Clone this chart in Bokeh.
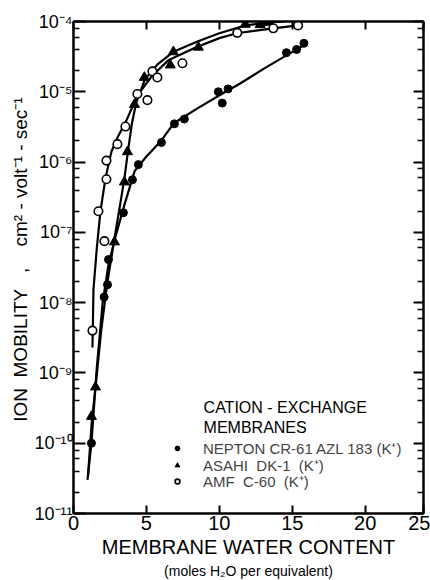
from bokeh.plotting import figure
from bokeh.models import (FixedTicker, LinearAxis, LogAxis, CustomJSTickFormatter,
                          Label, Legend, LegendItem, Range1d, Title)
from bokeh.embed import file_html
from bokeh.resources import INLINE

# ---------------- data ----------------
nepton_x = [1.23, 2.1, 2.33, 2.40, 3.42, 4.04, 4.45, 6.03, 6.92, 7.60, 9.93, 10.2, 10.6, 14.6, 15.3, 15.8]
nepton_y = [1e-10, 1.2e-8, 1.8e-8, 4.1e-8, 1.9e-7, 5.6e-7, 9.2e-7, 1.9e-6, 3.5e-6, 4.1e-6,
            1.0e-5, 6.9e-6, 1.1e-5, 3.6e-5, 4.0e-5, 4.9e-5]

asahi_x = [1.23, 1.51, 2.81, 3.49, 3.70, 4.18, 4.86, 6.64, 6.85, 8.56, 11.78, 12.8, 13.4]
asahi_y = [2.4e-10, 6.3e-10, 7.3e-8, 5.2e-7, 1.4e-6, 6.6e-6, 1.6e-5, 2.4e-5, 3.7e-5, 4.3e-5,
           9.1e-5, 9.0e-5, 9.7e-5]

amf_x = [1.30, 1.71, 2.12, 2.26, 2.26, 3.01, 3.56, 4.38, 5.07, 5.41, 5.75, 7.47, 11.23, 13.7, 15.4]
amf_y = [4e-9, 2.0e-7, 7.5e-8, 5.7e-7, 1.05e-6, 1.8e-6, 3.2e-6, 9.3e-6, 7.6e-6, 1.95e-5,
         1.6e-5, 2.55e-5, 6.9e-5, 8.0e-5, 8.8e-5]

nepton_curve_x = [0.96, 1.23, 1.6, 2.0, 2.4, 2.9, 3.5, 4.2, 5.0, 6.0, 6.9, 8.5, 10.3, 11.4, 13.0, 14.6, 15.8]
nepton_curve_y = [3e-11, 1e-10, 1.2e-9, 1e-8, 3.5e-8, 9e-8, 2.5e-7, 7.5e-7, 1.2e-6, 2.0e-6,
                  3.6e-6, 5.8e-6, 9.7e-6, 1.3e-5, 2.1e-5, 3.3e-5, 4.6e-5]

asahi_curve_x = [1.0, 1.25, 1.51, 1.9, 2.3, 2.8, 3.2, 3.5, 3.75, 4.0, 4.3, 4.9, 5.8, 6.85,
                 8.5, 10.0, 11.8, 13.4, 14.5]
asahi_curve_y = [3.5e-11, 2.0e-10, 6.3e-10, 4e-9, 1.8e-8, 8e-8, 2.5e-7, 6e-7, 1.5e-6, 3.5e-6,
                 7e-6, 1.5e-5, 2.5e-5, 3.7e-5, 5.2e-5, 6.8e-5, 8.8e-5, 9.7e-5, 1.0e-4]

amf_curve_x = [1.30, 1.37, 1.6, 1.85, 2.2, 2.6, 3.0, 3.6, 4.4, 5.4, 6.5, 8.3, 10.0, 11.2, 13.7, 15.4]
amf_curve_y = [2.3e-9, 1.55e-8, 6e-8, 2e-7, 6e-7, 1.4e-6, 2.2e-6, 3.8e-6, 9e-6, 1.7e-5,
               2.8e-5, 4.2e-5, 5.8e-5, 6.8e-5, 8.0e-5, 8.8e-5]

x_tick_values = [0, 5, 10, 15, 20, 24]
x_tick_labels = ["0", "5", "10", "15", "20", "25"]
y_exponents = [-11, -10, -9, -8, -7, -6, -5, -4]
y_minor_multipliers = [2, 4, 6, 8]

legend_labels = ["NEPTON CR-61 AZL 183 (K\u207a)", "ASAHI  DK-1  (K\u207a)", "AMF  C-60  (K\u207a)"]
legend_heading = ["CATION - EXCHANGE", "MEMBRANES"]
NB = "\u00a0"
y_label = (NB * 3 + "ION" + NB * 2 + "MOBILITY" + NB * 3 + "," + NB * 4
           + "cm\u00b2 - volt\u207b\u00b9 - sec\u207b\u00b9")
x_label_main = "MEMBRANE WATER CONTENT"
x_label_sub = "(moles H\u2082O per equivalent)"

FONT = "Liberation Sans"

# ---------------- figure ----------------
p = figure(width=430, height=580, x_range=Range1d(0, 24), y_range=Range1d(1e-11, 1e-4),
           y_axis_type="log", output_backend="svg", toolbar_location=None,
           min_border_left=73, min_border_right=7, min_border_top=21, min_border_bottom=67)
p.grid.visible = False
p.outline_line_color = "black"
p.outline_line_width = 2
p.background_fill_color = "white"
p.border_fill_color = "white"

y_major = [10.0 ** e for e in y_exponents]
y_minor = [m * 10.0 ** e for e in y_exponents[:-1] for m in y_minor_multipliers]
y_ticker = FixedTicker(ticks=y_major, minor_ticks=y_minor)
x_ticker = FixedTicker(ticks=x_tick_values)

y_fmt = CustomJSTickFormatter(code="""
const sup = {"-":"\u207b","0":"\u2070","1":"\u00b9","2":"\u00b2","3":"\u00b3","4":"\u2074",
             "5":"\u2075","6":"\u2076","7":"\u2077","8":"\u2078","9":"\u2079"};
const e = Math.round(Math.log10(tick));
return "10" + String(e).split("").map(c => sup[c]).join("");
""")
x_fmt = CustomJSTickFormatter(args=dict(vals=x_tick_values, labs=x_tick_labels), code="""
const i = vals.indexOf(tick);
return i >= 0 ? labs[i] : String(tick);
""")

def style_axis(ax, major_in, minor_in, show_labels, size="19px"):
    ax.axis_line_width = 2
    ax.axis_line_color = "black"
    ax.major_tick_line_width = 2
    ax.minor_tick_line_width = 1.5
    ax.major_tick_in = major_in
    ax.major_tick_out = 0
    ax.minor_tick_in = minor_in
    ax.minor_tick_out = 0
    ax.major_label_text_font = FONT
    ax.major_label_text_color = "black"
    ax.major_label_text_font_size = size
    ax.major_label_standoff = 2
    ax.axis_label_text_font = FONT
    ax.axis_label_text_font_style = "normal"
    ax.axis_label_text_color = "black"
    if not show_labels:
        ax.major_label_text_alpha = 0
        ax.major_label_text_font_size = "1px"
        ax.major_label_standoff = 0

xa = p.xaxis[0]
xa.ticker = x_ticker
xa.formatter = x_fmt
style_axis(xa, 8, 0, True, "20px")
xa.axis_label = x_label_main
xa.axis_label_text_font_size = "20px"
xa.axis_label_standoff = 3

ya = p.yaxis[0]
ya.ticker = y_ticker
ya.formatter = y_fmt
style_axis(ya, 12, 6, True, "18px")
ya.major_label_standoff = 1
ya.axis_label = y_label
ya.axis_label_text_font_size = "19px"
ya.axis_label_standoff = 0

top = LinearAxis(ticker=x_ticker)
style_axis(top, 8, 0, False)
p.add_layout(top, "above")

right = LogAxis(ticker=y_ticker)
style_axis(right, 10, 6, False)
p.add_layout(right, "right")

sub = Title(text=x_label_sub, align="center", offset=-26, standoff=0,
            text_font=FONT, text_font_size="14px", text_font_style="normal",
            text_color="black")
p.add_layout(sub, "below")

# ---------------- curves and points ----------------
p.line(nepton_curve_x, nepton_curve_y, line_width=2.2, color="black")
p.line(asahi_curve_x, asahi_curve_y, line_width=2.2, color="black")
p.line(amf_curve_x, amf_curve_y, line_width=2.2, color="black")

r_nep = p.scatter(nepton_x, nepton_y, marker="circle", size=8, color="black")
r_asa = p.scatter(asahi_x, asahi_y, marker="triangle", size=10, color="black")
r_amf = p.scatter(amf_x, amf_y, marker="circle", size=8.5, fill_color="white",
                  line_color="black", line_width=1.6)

# ---------------- legend (one row per entry, to set the tight row spacing) ----------------
for label, rend, vy in zip(legend_labels, [r_nep, r_asa, r_amf], [55, 38, 22]):
    lg = Legend(items=[LegendItem(label=label, renderers=[rend])],
                location=(98, vy), orientation="vertical",
                background_fill_alpha=0, border_line_alpha=0,
                padding=0, margin=0, spacing=0,
                glyph_width=12, glyph_height=16, label_height=16,
                label_standoff=20, label_text_font=FONT, label_text_font_size="15px",
                label_text_line_height=1.0)
    p.add_layout(lg)

for txt, yv in zip(legend_heading, [3.2e-10, 1.67e-10]):
    p.add_layout(Label(x=8.92, y=yv, text=txt, text_align="left", text_baseline="middle",
                       text_font=FONT, text_font_size="16px", text_color="black"))

open("out.html", "w").write(file_html(p, INLINE))
